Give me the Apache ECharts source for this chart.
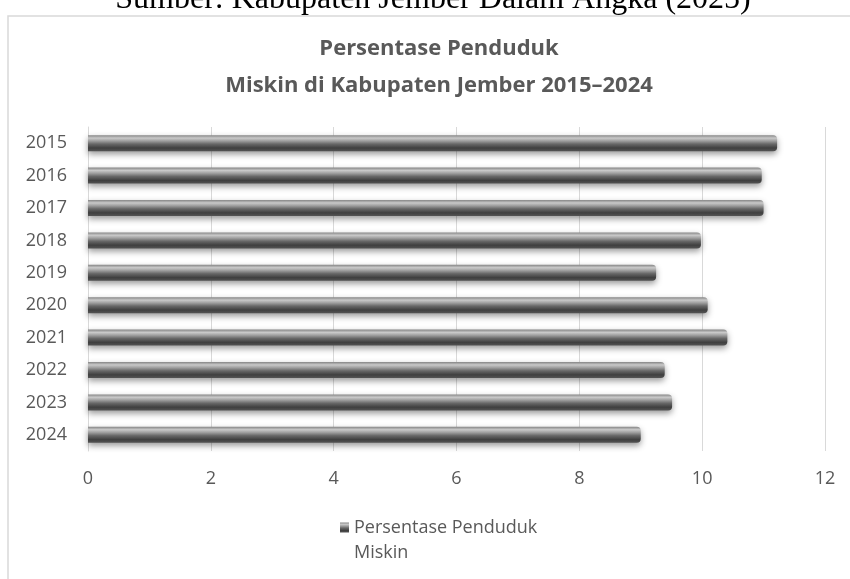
<!DOCTYPE html>
<html>
<head>
<meta charset="utf-8">
<script src="https://cdn.jsdelivr.net/npm/echarts@6/dist/echarts.min.js"></script>
<style>
html,body{margin:0;padding:0;background:#fff;}
#chart{width:850px;height:579px;}
</style>
</head>
<body>
<div id="chart"></div>
<script>
const years = ['2015','2016','2017','2018','2019','2020','2021','2022','2023','2024'];
const persen = [11.22, 10.97, 11.00, 9.98, 9.25, 10.09, 10.41, 9.39, 9.51, 9.00];
const xTicks = [0, 2, 4, 6, 8, 10, 12];
const seriesName = 'Persentase Penduduk\nMiskin';
const titleText = 'Persentase Penduduk\nMiskin di Kabupaten Jember 2015\u20132024';
const captionText = 'Sumber: Kabupaten Jember Dalam Angka (2025)';

const chart = echarts.init(document.getElementById('chart'), null, {renderer:'canvas'});
const font = '"Open Sans", Lato, sans-serif';
const barGrad = new echarts.graphic.LinearGradient(0,0,0,1,[
  {offset:0, color:'#858585'},
  {offset:0.18, color:'#c9c9c9'},
  {offset:0.35, color:'#a0a0a0'},
  {offset:0.55, color:'#686868'},
  {offset:0.8, color:'#3f3f3f'},
  {offset:1, color:'#545454'}
]);
chart.setOption({
  animation:false,
  backgroundColor:'#ffffff',
  graphic:[
    {type:'rect', shape:{x:8, y:16, width:860, height:580}, style:{fill:'none', stroke:'#d9d9d9', lineWidth:1.5}, z:-1},
    {type:'text', x:433, y:-16, style:{text:captionText, font:'32px "Liberation Serif", "Times New Roman", serif', fill:'#000', textAlign:'center'}}
  ],
  title:{
    text:titleText,
    left:434, textAlign:'center', top:25,
    textStyle:{fontFamily:font, fontSize:22, fontWeight:'bold', color:'#595959', lineHeight:37}
  },
  grid:{left:88, right:25, top:127, bottom:128},
  xAxis:{
    type:'value', min:0, max:12, interval:2,
    axisLine:{show:false}, axisTick:{show:false},
    splitLine:{show:true, lineStyle:{color:'#d9d9d9', width:1}},
    axisLabel:{color:'#595959', fontFamily:font, fontSize:18, margin:19,
      formatter:function(v){return xTicks.indexOf(v)>=0 ? String(v) : '';}}
  },
  yAxis:{
    type:'category', data:years, inverse:true,
    axisLine:{show:true, lineStyle:{color:'#d9d9d9'}}, axisTick:{show:false},
    axisLabel:{color:'#595959', fontFamily:font, fontSize:18, margin:21}
  },
  legend:{
    data:[seriesName], left:335, top:485, icon:'rect', itemWidth:9, itemHeight:10, itemGap:4,
    formatter:function(name){ return '\n' + name; },
    textStyle:{color:'#595959', fontFamily:font, fontSize:18, lineHeight:25}
  },
  series:[{
    type:'bar', name:seriesName, data:persen, barWidth:16,
    itemStyle:{color:barGrad, borderRadius:[0,4,4,0], shadowColor:'rgba(0,0,0,0.4)', shadowBlur:6, shadowOffsetY:3}
  }]
});
</script>
</body>
</html>
